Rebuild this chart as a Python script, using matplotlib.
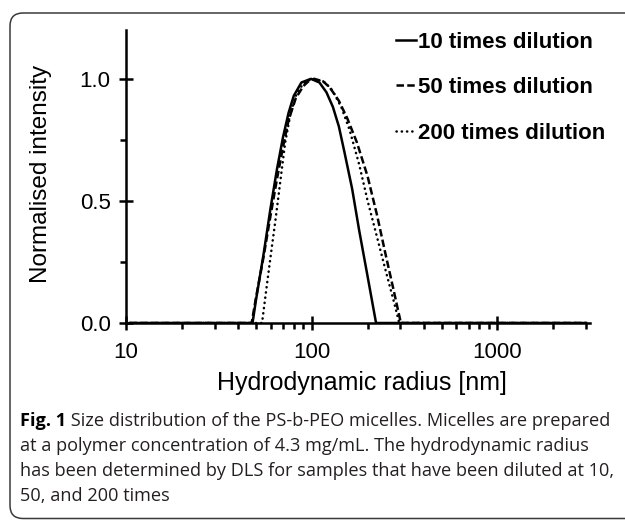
import numpy as np
import matplotlib.pyplot as plt
from matplotlib.patches import FancyBboxPatch
from matplotlib.lines import Line2D
from matplotlib.ticker import NullFormatter

# hydrodynamic radius [nm] and normalised intensity
r_10x = [10.5, 40, 48, 50, 55, 60, 65, 70, 75, 80, 88, 99, 110, 120, 130, 140, 150, 165, 180, 200, 222, 300, 3000]
i_10x = [0, 0, 0, 0.09, 0.28, 0.47, 0.63, 0.76, 0.86, 0.93, 0.985, 1.0, 0.985, 0.945, 0.885, 0.805, 0.70, 0.55, 0.38, 0.19, 0, 0, 0]

r_50x = [10.5, 40, 47.5, 50, 55, 60, 65, 70, 75, 82, 90, 96, 103, 115, 125, 140, 155, 175, 200, 225, 250, 275, 302, 400, 3000]
i_50x = [0, 0, 0, 0.10, 0.27, 0.44, 0.59, 0.72, 0.83, 0.92, 0.97, 0.99, 1.0, 0.99, 0.965, 0.91, 0.84, 0.74, 0.60, 0.44, 0.28, 0.14, 0, 0, 0]

r_200x = [10.5, 40, 54, 57, 60, 64, 68, 72, 77, 83, 90, 97, 105, 118, 130, 145, 160, 180, 200, 225, 250, 275, 296, 400, 3000]
i_200x = [0, 0, 0, 0.14, 0.27, 0.43, 0.59, 0.74, 0.86, 0.94, 0.98, 0.995, 1.0, 0.985, 0.95, 0.88, 0.79, 0.65, 0.50, 0.35, 0.215, 0.096, 0, 0, 0]

labels = ['10 times dilution', '50 times dilution', '200 times dilution']
xticks = [10, 100, 1000]
xtick_labels = ['10', '100', '1000']
yticks = [0, 0.5, 1.0]
ytick_labels = ['0.0', '0.5', '1.0']

caption_rest = [
    ' Size distribution of the PS-b-PEO micelles. Micelles are prepared',
    'at a polymer concentration of 4.3 mg/mL. The hydrodynamic radius',
    'has been determined by DLS for samples that have been diluted at 10,',
    '50, and 200 times',
]

W, H = 625, 521
fig = plt.figure(figsize=(W / 100, H / 100), dpi=100)
plt.rcParams['font.family'] = ['Liberation Sans', 'DejaVu Sans']

# rounded frame round the figure, right side runs off the picture
frame = FancyBboxPatch((0.10, 0.025), 8.0, 5.055, boxstyle='round,pad=0,rounding_size=0.13',
                       transform=fig.dpi_scale_trans, fill=False, edgecolor='#3a3a3a', lw=1.1)
fig.add_artist(frame)

ax = fig.add_axes([126 / W, 1 - 323 / H, 464 / W, 293 / H])
lw = 1.8
ax.plot(r_10x, i_10x, color='black', lw=lw, ls='-', zorder=1)
ax.plot(r_50x, i_50x, color='black', lw=lw, ls=(0, (3, 1.3)), zorder=1)
ax.plot(r_200x, i_200x, color='black', lw=lw, ls=(0, (0.1, 2.0)), dash_capstyle='round', zorder=1)

ax.set_xscale('log')
ax.set_xlim(10, 3150)
ax.set_ylim(0, 1.2)
ax.set_xticks(xticks)
ax.set_xticklabels(xtick_labels)
ax.set_xticks([20, 30, 40, 50, 60, 70, 80, 90, 200, 300, 400, 500, 600, 700, 800, 900, 2000, 3000], minor=True)
ax.xaxis.set_minor_formatter(NullFormatter())
ax.set_yticks(yticks)
ax.set_yticklabels(ytick_labels)
ax.set_yticks([0.25, 0.75], minor=True)

for s in ['top', 'right']:
    ax.spines[s].set_visible(False)
for s in ['left', 'bottom']:
    ax.spines[s].set_linewidth(lw)
ax.tick_params(which='major', direction='inout', length=10, width=lw, labelsize=16, colors='black')
ax.tick_params(which='minor', direction='out', length=4.5, width=lw)
ax.tick_params(axis='y', which='major', pad=6)
ax.tick_params(axis='x', which='major', pad=9)

fig.text(41 / W, 1 - 174 / H, 'Normalised intensity', rotation=90, ha='center', va='center', fontsize=17.5)
fig.text(362 / W, 1 - 383 / H, 'Hydrodynamic radius [nm]', ha='center', va='center', fontsize=18)

handles = [Line2D([], [], color='black', lw=lw, ls='-'),
           Line2D([], [], color='black', lw=lw, ls=(0, (3, 1.3))),
           Line2D([], [], color='black', lw=lw, ls=(0, (0.1, 2.0)), dash_capstyle='round')]
ax.legend(handles, labels, loc='upper left', bbox_to_anchor=(396 / W, 1 - 31.5 / H),
          bbox_transform=fig.transFigure, frameon=False, borderpad=0, borderaxespad=0,
          handlelength=0.9, handletextpad=0.1, labelspacing=1.11,
          prop={'weight': 'bold', 'size': 16})

# caption
cap_font = 'Open Sans'
cap_col = '#231f20'
cap_size = 13.1
y0 = 421
fig.canvas.draw()
t = fig.text(20 / W, 1 - y0 / H, 'Fig. 1', fontsize=cap_size, fontweight='bold', family=cap_font,
             color='black', va='center')
bb = t.get_window_extent(renderer=fig.canvas.get_renderer())
fig.text(bb.x1 / W, 1 - y0 / H, caption_rest[0], fontsize=cap_size, family=cap_font, color=cap_col, va='center')
for k, line in enumerate(caption_rest[1:], start=1):
    fig.text(20 / W, 1 - (y0 + 25 * k) / H, line, fontsize=cap_size, family=cap_font, color=cap_col, va='center')

fig.savefig('out.png', dpi=100)
